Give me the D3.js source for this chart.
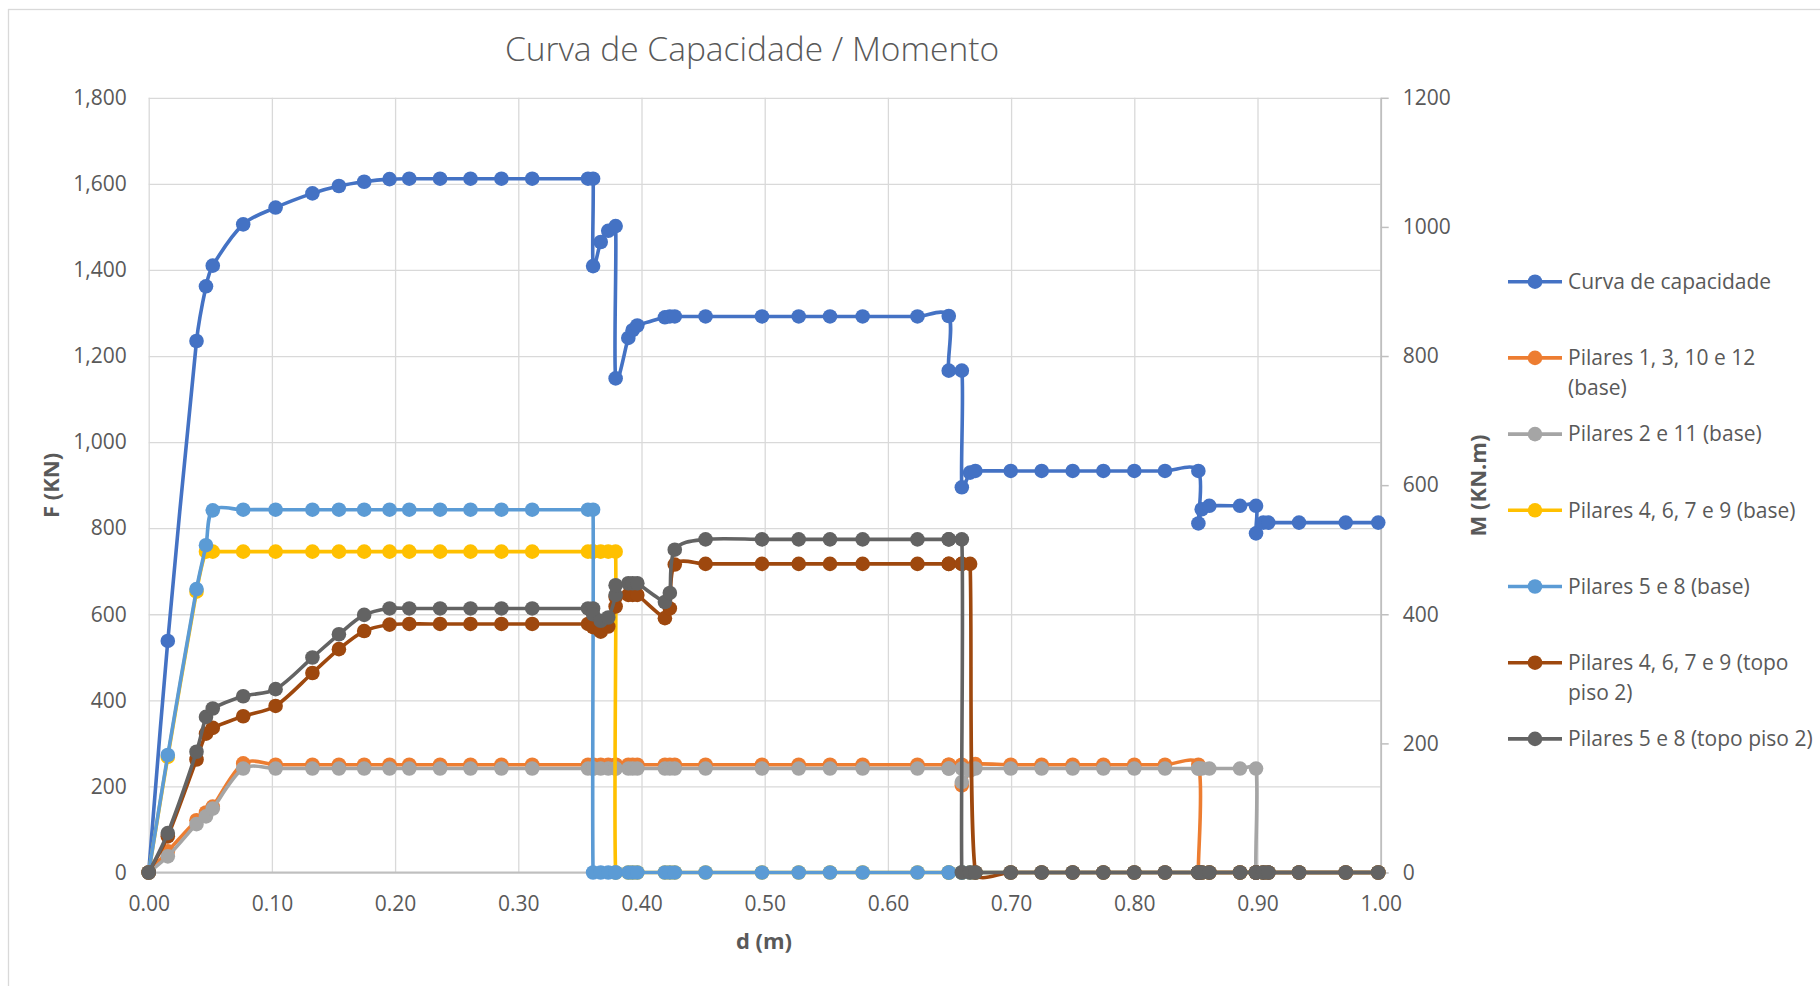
<!DOCTYPE html>
<html>
<head>
<meta charset="utf-8">
<title>Curva de Capacidade / Momento</title>
<script src="https://d3js.org/d3.v7.min.js"></script>
<style>
  body { margin: 0; background: #ffffff; }
  text { font-family: "Open Sans", "Noto Sans", sans-serif; fill: #595959; }
</style>
</head>
<body>
<svg width="1820" height="986"></svg>
<script>
// deslocamento d (m) - same steps for every series
var d = [
  0, 0.0155, 0.0388, 0.0465, 0.052, 0.0767, 0.103, 0.1329, 0.1544, 0.1749,
  0.1955, 0.2115, 0.2365, 0.2612, 0.2863, 0.3113, 0.3566, 0.3607, 0.3607, 0.3669,
  0.373, 0.379, 0.379, 0.3893, 0.3928, 0.3966, 0.419, 0.423, 0.427, 0.452,
  0.4978, 0.5276, 0.553, 0.5795, 0.624, 0.6494, 0.6494, 0.66, 0.66, 0.6667,
  0.671, 0.6997, 0.7248, 0.75, 0.7749, 0.80, 0.8249, 0.852, 0.852, 0.8547,
  0.8609, 0.8858, 0.8988, 0.8988, 0.9047, 0.9088, 0.9337, 0.9716, 0.998];

// F (KN) - left axis
var curvaCapacidade = [
  0, 538, 1235, 1362, 1410, 1506, 1545, 1578, 1595, 1605,
  1611, 1612, 1612, 1612, 1612, 1612, 1612, 1612, 1409, 1465,
  1491, 1502, 1148, 1242, 1260, 1271, 1290, 1292, 1292, 1292,
  1292, 1292, 1292, 1292, 1292, 1293, 1166, 1166, 895, 929,
  933, 933, 933, 933, 933, 933, 933, 933, 811, 844,
  852, 852, 852, 788, 813, 813, 813, 813, 813];

// M (KN.m) - right axis
var pilares1_3_10_12 = [
  0, 33, 81, 93, 102, 169, 167, 167, 167, 167,
  167, 167, 167, 167, 167, 167, 167, 167, 167, 167,
  167, 167, 167, 167, 167, 167, 167, 167, 167, 167,
  167, 167, 167, 167, 167, 167, 167, 167, 135, 160,
  168, 167, 167, 167, 167, 167, 167, 167, 0, 0,
  0, 0, 0, 0, 0, 0, 0, 0, 0];

var pilares2_11 = [
  0, 25, 75, 87, 99, 161, 161, 161, 161, 161,
  161, 161, 161, 161, 161, 161, 161, 161, 161, 161,
  161, 161, 161, 161, 161, 161, 161, 161, 161, 161,
  161, 161, 161, 161, 161, 161, 161, 161, 140, 158,
  161, 161, 161, 161, 161, 161, 161, 161, 161, 161,
  161, 161, 161, 0, 0, 0, 0, 0, 0];

var pilares4_6_7_9 = [
  0, 179, 435, 497, 497, 497, 497, 497, 497, 497,
  497, 497, 497, 497, 497, 497, 497, 497, 497, 497,
  497, 497, 0, 0, 0, 0, 0, 0, 0, 0,
  0, 0, 0, 0, 0, 0, 0, 0, 0, 0,
  0, 0, 0, 0, 0, 0, 0, 0, 0, 0,
  0, 0, 0, 0, 0, 0, 0, 0, 0];

var pilares5_8 = [
  0, 182, 439, 507, 561, 562, 562, 562, 562, 562,
  562, 562, 562, 562, 562, 562, 562, 562, 0, 0,
  0, 0, 0, 0, 0, 0, 0, 0, 0, 0,
  0, 0, 0, 0, 0, 0, 0, 0, 0, 0,
  0, 0, 0, 0, 0, 0, 0, 0, 0, 0,
  0, 0, 0, 0, 0, 0, 0, 0, 0];

var pilares4_6_7_9Topo = [
  0, 56, 175, 215, 224, 242, 258, 309, 346, 374,
  384, 385, 385, 385, 385, 385, 385, 385, 380, 373,
  381, 412, 427, 430, 430, 430, 394, 409, 477, 478,
  478, 478, 478, 478, 478, 478, 478, 478, 478, 478,
  0, 0, 0, 0, 0, 0, 0, 0, 0, 0,
  0, 0, 0, 0, 0, 0, 0, 0, 0];

var pilares5_8Topo = [
  0, 61, 187, 241, 254, 273, 284, 333, 369, 399,
  409, 409, 409, 409, 409, 409, 409, 409, 400, 390,
  395, 430, 445, 448, 448, 448, 419, 433, 500, 516,
  516, 516, 516, 516, 516, 516, 516, 516, 0, 0,
  0, 0, 0, 0, 0, 0, 0, 0, 0, 0,
  0, 0, 0, 0, 0, 0, 0, 0, 0];

// tick labels
var xTicks = [0, 0.1, 0.2, 0.3, 0.4, 0.5, 0.6, 0.7, 0.8, 0.9, 1.0];
var fTicks = [0, 200, 400, 600, 800, 1000, 1200, 1400, 1600, 1800];
var mTicks = [0, 200, 400, 600, 800, 1000, 1200];

var series = [
  {name: ['Curva de capacidade'], values: curvaCapacidade, color: '#4472C4', axis: 'F'},
  {name: ['Pilares 1, 3, 10 e 12', '(base)'], values: pilares1_3_10_12, color: '#ED7D31', axis: 'M'},
  {name: ['Pilares 2 e 11 (base)'], values: pilares2_11, color: '#A5A5A5', axis: 'M'},
  {name: ['Pilares 4, 6, 7 e 9 (base)'], values: pilares4_6_7_9, color: '#FFC000', axis: 'M'},
  {name: ['Pilares 5 e 8 (base)'], values: pilares5_8, color: '#5B9BD5', axis: 'M'},
  {name: ['Pilares 4, 6, 7 e 9 (topo', 'piso 2)'], values: pilares4_6_7_9Topo, color: '#9E480E', axis: 'M'},
  {name: ['Pilares 5 e 8 (topo piso 2)'], values: pilares5_8Topo, color: '#636363', axis: 'M'}
];

var plotLeft = 148.7, plotRight = 1380.7, plotTop = 97.8, plotBottom = 872.5;

var xs = d3.scaleLinear().domain([0, 1]).range([plotLeft, plotRight]);
var yF = d3.scaleLinear().domain([0, 1800]).range([plotBottom, plotTop]);
var yM = d3.scaleLinear().domain([0, 1200]).range([plotBottom, plotTop]);

// Smoothed line like the spreadsheet one: catmull-rom tangents (1/6),
// kept short on tiny segments so vertical drops do not overshoot
function smoothCurve(context) {
  var pts;
  function cap(v, m) {
    var l = Math.hypot(v[0], v[1]);
    return l > m && l > 0 ? [v[0] * m / l, v[1] * m / l] : v;
  }
  return {
    areaStart: function() {},
    areaEnd: function() {},
    lineStart: function() { pts = []; },
    point: function(x, y) { pts.push([+x, +y]); },
    lineEnd: function() {
      var n = pts.length;
      if (!n) return;
      context.moveTo(pts[0][0], pts[0][1]);
      for (var i = 0; i < n - 1; i++) {
        var p0 = pts[Math.max(i - 1, 0)], p1 = pts[i], p2 = pts[i + 1], p3 = pts[Math.min(i + 2, n - 1)];
        var len = Math.hypot(p2[0] - p1[0], p2[1] - p1[1]);
        var t1 = cap([(p2[0] - p0[0]) / 6, (p2[1] - p0[1]) / 6], len / 3);
        var t2 = cap([(p3[0] - p1[0]) / 6, (p3[1] - p1[1]) / 6], len / 3);
        context.bezierCurveTo(p1[0] + t1[0], p1[1] + t1[1], p2[0] - t2[0], p2[1] - t2[1], p2[0], p2[1]);
      }
    }
  };
}

var svg = d3.select('svg');

// chart area border
svg.append('rect')
  .attr('x', 8.5).attr('y', 9.5)
  .attr('width', 1830).attr('height', 1000)
  .style('fill', 'none').style('stroke', '#d9d9d9').style('stroke-width', 1.3);

// Title
svg.append('text')
  .attr('x', 752).attr('y', 61)
  .style('text-anchor', 'middle')
  .style('font-size', '33.5px')
  .style('font-weight', 300)
  .text('Curva de Capacidade / Momento');

// Left axis + horizontal grid
var gy = svg.append('g')
  .attr('transform', 'translate(' + plotLeft + ',0)')
  .call(d3.axisLeft(yF).tickValues(fTicks).tickFormat(d3.format(','))
    .tickSizeInner(-(plotRight - plotLeft)).tickSizeOuter(0).tickPadding(22));
gy.select('.domain').remove();
gy.selectAll('line').style('stroke', '#d9d9d9').style('stroke-width', 1.3);
gy.selectAll('text').style('font-size', '21px').style('fill', '#595959');

// Bottom axis + vertical grid
var gx = svg.append('g')
  .attr('transform', 'translate(0,' + plotBottom + ')')
  .call(d3.axisBottom(xs).tickValues(xTicks).tickFormat(d3.format('.2f'))
    .tickSizeInner(-(plotBottom - plotTop)).tickSizeOuter(0));
gx.select('.domain').remove();
gx.selectAll('line').style('stroke', '#d9d9d9').style('stroke-width', 1.3);
gx.selectAll('text').attr('y', 31.5).attr('dy', '0.35em')
  .style('font-size', '21px').style('fill', '#595959');

// x axis line
svg.append('line')
  .attr('x1', plotLeft).attr('x2', plotRight).attr('y1', plotBottom).attr('y2', plotBottom)
  .style('stroke', '#bfbfbf').style('stroke-width', 1.8);

// Right axis (M)
var gm = svg.append('g')
  .attr('transform', 'translate(' + plotRight + ',0)')
  .call(d3.axisRight(yM).tickValues(mTicks).tickFormat(d3.format('d'))
    .tickSizeInner(8).tickSizeOuter(0).tickPadding(14));
gm.select('.domain').style('stroke', '#bfbfbf').style('stroke-width', 1.8);
gm.selectAll('line').style('stroke', '#bfbfbf').style('stroke-width', 1.5);
gm.selectAll('text').style('font-size', '21px').style('fill', '#595959');

// Axis titles
svg.append('text')
  .attr('x', 764).attr('y', 941.5).attr('dy', '0.35em')
  .style('text-anchor', 'middle').style('font-size', '22px').style('font-weight', 'bold')
  .text('d (m)');
svg.append('text')
  .attr('transform', 'translate(51,485.5) rotate(-90)').attr('dy', '0.35em')
  .style('text-anchor', 'middle').style('font-size', '22px').style('font-weight', 'bold')
  .text('F (KN)');
svg.append('text')
  .attr('transform', 'translate(1478,485.5) rotate(-90)').attr('dy', '0.35em')
  .style('text-anchor', 'middle').style('font-size', '22px').style('font-weight', 'bold')
  .text('M (KN.m)');

// Lines and markers, series order (last on top)
series.forEach(function(s) {
  var ys = s.axis === 'F' ? yF : yM;
  var pts = d.map(function(v, i) { return [v, s.values[i]]; });
  var line = d3.line()
    .x(function(p) { return xs(p[0]); })
    .y(function(p) { return ys(p[1]); })
    .curve(smoothCurve);
  var g = svg.append('g');
  g.append('path')
    .attr('d', line(pts))
    .style('fill', 'none')
    .style('stroke', s.color)
    .style('stroke-width', 3.6)
    .style('stroke-linejoin', 'round');
  g.selectAll('circle')
    .data(pts)
    .enter()
    .append('circle')
      .attr('cx', function(p) { return xs(p[0]); })
      .attr('cy', function(p) { return ys(p[1]); })
      .attr('r', 7.3)
      .style('fill', s.color);
});

// Legend
var legend = svg.append('g');
series.forEach(function(s, i) {
  var y = 281.7 + i * 76.2;
  legend.append('line')
    .attr('x1', 1508).attr('x2', 1562).attr('y1', y).attr('y2', y)
    .style('stroke', s.color).style('stroke-width', 3.6);
  legend.append('circle')
    .attr('cx', 1535).attr('cy', y).attr('r', 7.3)
    .style('fill', s.color);
  var t = legend.append('text')
    .attr('x', 1568).attr('y', y)
    .style('font-size', '21px');
  s.name.forEach(function(ln, j) {
    t.append('tspan').attr('x', 1568).attr('dy', j === 0 ? '0.35em' : '30px').text(ln);
  });
});
</script>
</body>
</html>
